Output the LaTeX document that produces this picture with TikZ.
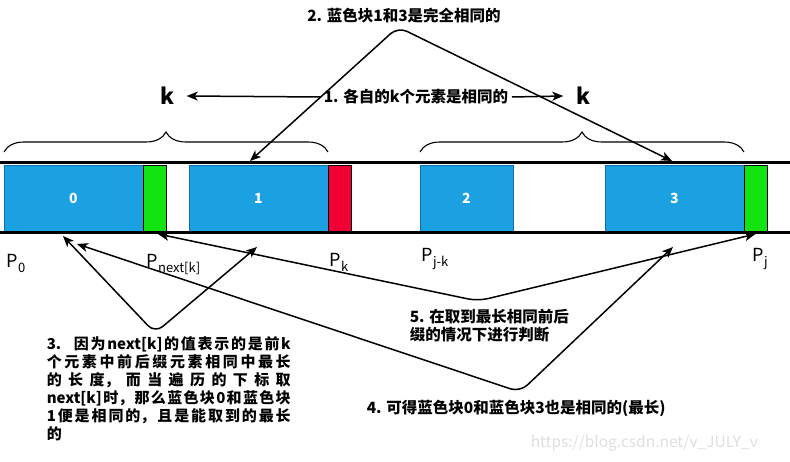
\documentclass[tikz,border=0pt]{standalone}
\usepackage{fontspec}
\setmainfont{Noto Sans CJK SC}
\usetikzlibrary{arrows.meta,positioning,decorations.pathreplacing}
\definecolor{blockblue}{RGB}{27,161,226}
\definecolor{blockedge}{RGB}{16,110,175}
\definecolor{barGreen}{RGB}{18,228,18}
\definecolor{barRed}{RGB}{240,0,52}
\definecolor{markgray}{RGB}{222,222,222}
\XeTeXlinebreaklocale "zh"
\XeTeXlinebreakskip=0pt plus 1pt
\newcommand{\psub}[1]{P\raisebox{-0.5ex}{\fontsize{13}{13}\selectfont #1}}

\begin{document}
\begin{tikzpicture}[x=1pt, y=-1pt, line width=1.5pt, >={Stealth[length=11pt, width=9pt, inset=3pt]},
  block/.style = {draw=blockedge, line width=0.5pt, fill=blockblue, minimum height=66pt, inner sep=0pt, outer sep=0pt, text=white, font=\bfseries\fontsize{14}{14}\selectfont},
  stopbar/.style = {draw=black, line width=0.8pt, minimum width=23pt, minimum height=66pt, inner sep=0pt, outer sep=0pt},
  note/.style = {font=\bfseries\fontsize{15.5}{18.5}\selectfont, inner sep=0pt, align=left},
  klabel/.style = {font=\bfseries\fontsize{22}{22}\selectfont, inner ysep=2pt, inner xsep=12pt},
  plabel/.style = {font=\fontsize{18}{18}\selectfont, anchor=base west, inner sep=0pt},
  brace/.style = {decorate, decoration={brace, amplitude=20pt}, line width=1.1pt},
  link/.style = {<->, rounded corners=10pt}]
  \useasboundingbox (0,0) rectangle (790,462);

  % Blocks
  \node[block, minimum width=139pt, anchor=west] (b0) at (4,198) {0};
  \node[stopbar, fill=barGreen] (g0) [right=0pt of b0] {};
  \node[block, minimum width=139pt, anchor=west] (b1) at (189,198) {1};
  \node[stopbar, fill=barRed] (r1) [right=0pt of b1] {};
  \node[block, minimum width=93pt, anchor=west] (b2) at (420,198) {2};
  \node[block, minimum width=139pt, anchor=west] (b3) at (605,198) {3};
  \node[stopbar, fill=barGreen] (g3) [right=0pt of b3] {};

  % Bar edges
  \draw[line width=3pt] (0,163) -- (790,163) (0,233) -- (790,233);

  % Braces
  \draw[brace] (4,152) -- (328,152);
  \draw[brace] (420,152) -- (744,152);

  % Labels
  \node[klabel] (kl) at (167,96) {k};
  \node[klabel] (kr) at (583,96) {k};
  \node[note, inner xsep=3pt] (n1) at (416,97) {1. 各自的k个元素是相同的};
  \node[note] (n2) at (404,16) {2. 蓝色块1和3是完全相同的};
  \node[note, font=\bfseries\fontsize{15}{18}\selectfont, text width=244pt, align=justify, anchor=north west] (n3) at (46,336)
    {3.~~因为next[k]的值表示的是前k\linebreak
     个元素中前后缀元素相同中最长\linebreak
     的长度，而当遍历的下标取\linebreak
     next[k]时，那么蓝色块0和蓝色块\linebreak
     1便是相同的，且是能取到的最长\linebreak
     的};
  \node[note, anchor=west] (n4) at (366,408) {4. 可得蓝色块0和蓝色块3也是相同的(最长)};
  \node[note, anchor=north west] (n5) at (409,308) {5. 在取到最长相同前后\\缀的情况下进行判断};

  \node[plabel] (p0) at (6,268) {\psub{0}};
  \node[plabel] (pn) at (146,268) {\psub{next[k]}};
  \node[plabel] (pk) at (329,267) {\psub{k}};
  \node[plabel] (pjk) at (421,262) {\psub{j-k}};
  \node[plabel] (pj) at (752,262) {\psub{j}};

  \node[font=\fontsize{15.5}{16}\selectfont, text=markgray, anchor=west, inner sep=0pt] (url) at (530,443) {https://blog.csdn.net/v\_JULY\_v};

  % Bends
  \coordinate (v2) at (398,27);
  \coordinate (v3) at (155,333);
  \coordinate (v4) at (520,392);
  \coordinate (v5) at (478,301);
  \coordinate (e3) at (257,247);
  \coordinate (e4l) at (77,244);
  \coordinate (e4r) at (673,247);

  % Paths
  \draw[->] (n1.west) -- (kl.east);
  \draw[->] (n1.east) -- (kr.west);
  \draw[link] ([xshift=-8.5pt, yshift=4pt]b1.north) -- (v2) -- ([xshift=-2.5pt, yshift=4pt]b3.north);
  \draw[link] ([xshift=-10.5pt, yshift=-5pt]b0.south) -- (v3) -- (e3);
  \draw[link] (e4l) -- (v4) -- (e4r);
  \draw[link] ([xshift=3.5pt, yshift=-3pt]g0.south) -- (v5) -- ([yshift=-3pt]g3.south);
\end{tikzpicture}
\end{document}
